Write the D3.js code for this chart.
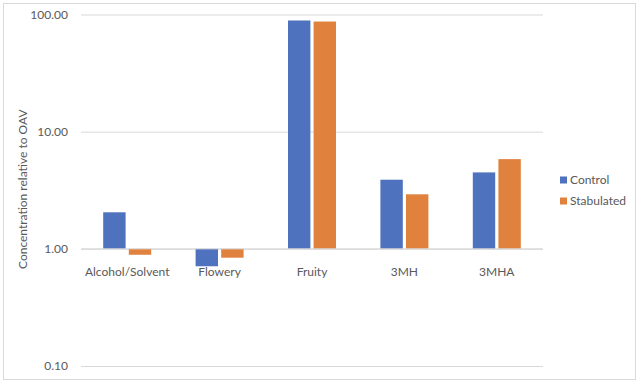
<!DOCTYPE html>
<html><head><meta charset="utf-8">
<script src="https://cdn.jsdelivr.net/npm/d3@7"></script>
<style>
body{margin:0;background:#fff;}
text{font-family:Lato,"Open Sans",sans-serif;fill:#595959;}
</style></head>
<body><svg id="c" width="640" height="381"></svg>
<script>
const categories = ["Alcohol/Solvent","Flowery","Fruity","3MH","3MHA"];
const seriesNames = ["Control","Stabulated"];
const control = [2.05, 0.71, 88.9, 3.89, 4.49];
const stabulated = [0.89, 0.84, 87.1, 2.92, 5.83];
const tickValues = [0.1, 1, 10, 100];
const colors = ["#4E72BE","#E0823E"];

(function(){
const svg = d3.select("#c");
svg.append("rect").attr("x",3.5).attr("y",3.5).attr("width",632).attr("height",376)
  .attr("fill","#fff").attr("stroke","#d9d9d9");

const pL=81, pR=543, pT=14.5, pB=366;
const x = d3.scaleBand().domain(categories).range([pL,pR]).paddingInner(0).paddingOuter(0);
const y = d3.scaleLog().domain([0.1,100]).range([pB,pT]);
const x1 = d3.scaleBand().domain(seriesNames).range([0,48]).paddingInner(0.125);

const yAxis = d3.axisLeft(y).tickValues(tickValues).tickSize(-(pR-pL)).tickFormat(d3.format(".2f"));
const ga = svg.append("g").attr("transform",`translate(${pL},0)`).call(yAxis);
ga.select(".domain").remove();
ga.selectAll(".tick line").attr("stroke","#d9d9d9").attr("stroke-width",1);
ga.selectAll(".tick text").attr("x",-13).attr("font-size","12px").style("fill","#595959");

const data = [control, stabulated];
seriesNames.forEach((s,si)=>{
  svg.append("g").selectAll("rect").data(categories).join("rect")
    .attr("x",c=>x(c)+(x.bandwidth()-48)/2+x1(s))
    .attr("width",x1.bandwidth())
    .attr("y",(c,i)=>Math.min(y(data[si][i]),y(1)))
    .attr("height",(c,i)=>Math.abs(y(data[si][i])-y(1)))
    .attr("fill",colors[si]);
});

svg.append("line").attr("x1",pL).attr("x2",pR).attr("y1",y(1)).attr("y2",y(1)).attr("stroke","#d9d9d9");

svg.append("g").selectAll("text").data(categories).join("text")
  .attr("x",c=>x(c)+x.bandwidth()/2).attr("y",276).attr("text-anchor","middle")
  .attr("font-size","12px").text(d=>d);

svg.append("text").attr("transform",`translate(27,${(pT+pB)/2-1}) rotate(-90)`)
  .attr("text-anchor","middle").attr("font-size","12px").text("Concentration relative to OAV");

seriesNames.forEach((s,i)=>{
  const ly = 180 + i*21;
  svg.append("rect").attr("x",560).attr("y",ly-3.5).attr("width",7).attr("height",7).attr("fill",colors[i]);
  svg.append("text").attr("x",570).attr("y",ly+4).attr("font-size","12px").text(s);
});
})();
</script></body></html>
